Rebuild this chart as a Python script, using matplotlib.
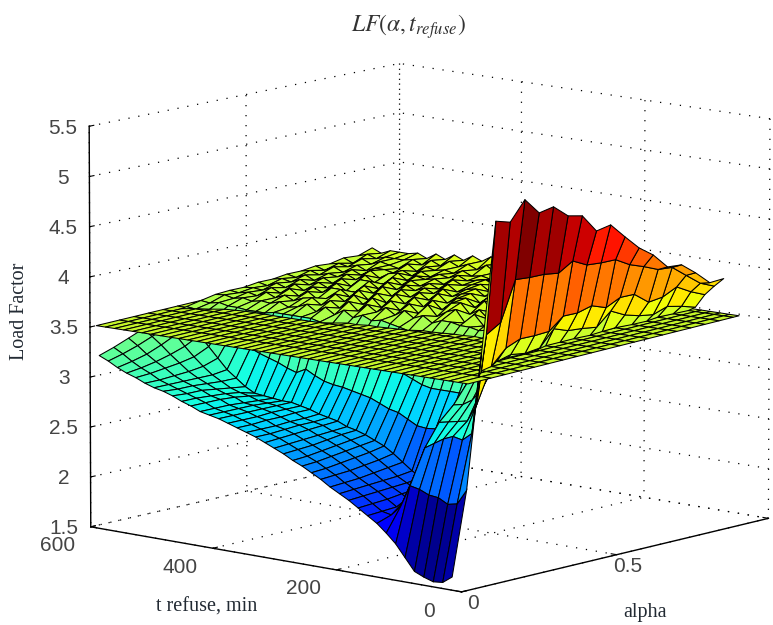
import matplotlib
matplotlib.use("Agg")
import matplotlib.pyplot as plt
from matplotlib.transforms import Affine2D
from mpl_toolkits.mplot3d.art3d import Poly3DCollection
from matplotlib import colors

t_refuse = list(range(15, 600, 15))
alpha = [0.0, 0.046, 0.093, 0.139, 0.185, 0.232, 0.278, 0.324, 0.371, 0.417,
         0.463, 0.509, 0.556, 0.602, 0.648, 0.695, 0.741, 0.787, 0.834, 0.88]
plane_alpha = [0.02, 0.093, 0.139, 0.185, 0.232, 0.278, 0.324, 0.371, 0.417, 0.463,
               0.509, 0.556, 0.602, 0.648, 0.695, 0.741, 0.787, 0.834, 0.88, 0.9]
plane_t = [0] + t_refuse + [600]
plane_front = 3.53
plane_right = 3.60
plane_left = 3.50
load_factor = [
[1.63,2.45,3.75,5.03,4.99,5.18,5.02,5.05,4.93,4.90,4.72,4.75,4.60,4.46,4.36,4.21,4.20,4.09,3.96,3.97],
[1.56,2.30,2.96,3.90,3.99,4.38,4.37,4.37,4.35,4.44,4.37,4.36,4.36,4.28,4.23,4.17,4.16,4.05,3.94,3.88],
[1.55,2.28,2.88,3.20,3.54,3.69,3.75,3.75,3.76,3.88,3.88,3.92,3.87,3.94,3.94,3.83,3.85,3.92,3.84,3.78],
[1.58,2.33,2.90,3.02,3.30,3.54,3.58,3.56,3.58,3.74,3.69,3.68,3.66,3.79,3.72,3.68,3.66,3.71,3.68,3.64],
[1.62,2.34,2.86,3.00,3.18,3.42,3.46,3.47,3.50,3.53,3.54,3.55,3.53,3.55,3.58,3.55,3.55,3.59,3.58,3.58],
[1.74,2.38,2.80,2.98,3.12,3.38,3.42,3.45,3.47,3.48,3.49,3.50,3.48,3.49,3.50,3.48,3.50,3.49,3.51,3.50],
[1.86,2.40,2.74,2.96,3.10,3.30,3.40,3.44,3.47,3.49,3.48,3.49,3.47,3.48,3.49,3.50,3.48,3.50,3.52,3.53],
[1.95,2.18,2.48,2.75,2.95,3.12,3.35,3.45,3.50,3.52,3.49,3.50,3.52,3.54,3.53,3.56,3.58,3.57,3.60,3.62],
[2.03,2.08,2.20,2.40,2.62,2.80,3.02,3.30,3.45,3.56,3.60,3.58,3.62,3.64,3.60,3.63,3.66,3.62,3.66,3.70],
[2.09,2.10,2.11,2.13,2.14,2.16,2.70,3.05,3.42,3.58,3.64,3.60,3.66,3.62,3.68,3.64,3.62,3.70,3.64,3.74],
[2.15,2.16,2.17,2.19,2.20,2.22,2.72,3.06,3.44,3.62,3.66,3.70,3.62,3.68,3.64,3.70,3.66,3.62,3.72,3.70],
[2.21,2.22,2.23,2.24,2.25,2.27,2.72,3.06,3.44,3.60,3.68,3.62,3.70,3.64,3.70,3.64,3.72,3.66,3.68,3.76],
[2.26,2.27,2.28,2.29,2.30,2.32,2.71,3.06,3.46,3.62,3.60,3.70,3.64,3.72,3.64,3.72,3.66,3.70,3.78,3.72],
[2.31,2.32,2.33,2.35,2.37,2.39,2.72,3.06,3.46,3.62,3.70,3.62,3.72,3.66,3.72,3.66,3.72,3.68,3.70,3.80],
[2.37,2.38,2.39,2.41,2.43,2.46,2.77,3.08,3.48,3.64,3.60,3.70,3.64,3.74,3.68,3.70,3.74,3.66,3.80,3.74],
[2.42,2.43,2.45,2.47,2.49,2.52,2.82,3.12,3.50,3.64,3.72,3.64,3.74,3.68,3.72,3.74,3.68,3.72,3.72,3.82],
[2.47,2.48,2.50,2.52,2.54,2.56,2.84,3.16,3.52,3.60,3.68,3.74,3.66,3.74,3.68,3.72,3.70,3.74,3.74,3.78],
[2.51,2.52,2.54,2.56,2.58,2.60,2.88,3.22,3.54,3.66,3.62,3.72,3.74,3.66,3.72,3.68,3.74,3.68,3.82,3.80],
[2.56,2.57,2.58,2.60,2.62,2.63,2.92,3.26,3.56,3.62,3.72,3.64,3.72,3.74,3.68,3.74,3.70,3.74,3.74,3.76],
[2.60,2.61,2.62,2.63,2.64,2.65,2.94,3.30,3.58,3.68,3.62,3.72,3.66,3.72,3.74,3.68,3.74,3.70,3.80,3.78],
[2.64,2.65,2.66,2.67,2.68,2.69,2.96,3.34,3.60,3.62,3.70,3.64,3.74,3.68,3.72,3.74,3.70,3.72,3.72,3.84],
[2.68,2.68,2.69,2.70,2.70,2.71,2.98,3.38,3.58,3.68,3.62,3.72,3.66,3.74,3.68,3.72,3.74,3.68,3.82,3.76],
[2.71,2.71,2.71,2.72,2.72,2.73,2.99,3.42,3.62,3.62,3.70,3.64,3.72,3.68,3.74,3.70,3.72,3.70,3.76,3.82],
[2.74,2.74,2.75,2.75,2.76,2.76,3.01,3.46,3.58,3.68,3.62,3.72,3.66,3.72,3.68,3.74,3.70,3.72,3.72,3.80],
[2.77,2.77,2.77,2.78,2.78,2.78,3.05,3.50,3.64,3.60,3.70,3.62,3.72,3.68,3.72,3.68,3.74,3.70,3.78,3.76],
[2.80,2.80,2.80,2.80,2.80,2.80,3.10,3.54,3.58,3.68,3.62,3.70,3.64,3.72,3.68,3.72,3.70,3.74,3.72,3.82],
[2.82,2.82,2.82,2.82,2.81,2.80,3.05,3.56,3.64,3.60,3.70,3.62,3.72,3.66,3.72,3.70,3.72,3.70,3.76,3.76],
[2.84,2.84,2.84,2.83,2.82,2.81,3.08,3.56,3.58,3.66,3.62,3.70,3.64,3.72,3.66,3.72,3.68,3.72,3.72,3.80],
[2.88,2.88,2.88,2.87,2.85,2.82,3.12,3.56,3.64,3.60,3.68,3.62,3.70,3.64,3.72,3.66,3.72,3.70,3.76,3.74],
[2.91,2.91,2.90,2.89,2.87,2.83,3.15,3.56,3.60,3.66,3.62,3.68,3.62,3.70,3.64,3.72,3.66,3.72,3.70,3.78],
[2.95,2.94,2.94,2.92,2.90,2.88,3.18,3.56,3.58,3.64,3.60,3.68,3.62,3.70,3.64,3.70,3.70,3.66,3.74,3.72],
[2.98,2.97,2.97,2.96,2.95,2.95,3.22,3.54,3.62,3.60,3.66,3.62,3.68,3.62,3.70,3.64,3.66,3.72,3.68,3.76],
[3.00,3.00,3.00,3.00,3.00,3.02,3.28,3.54,3.59,3.64,3.60,3.66,3.62,3.68,3.64,3.70,3.68,3.66,3.72,3.70],
[3.03,3.03,3.04,3.05,3.07,3.12,3.34,3.54,3.60,3.60,3.66,3.61,3.66,3.62,3.68,3.64,3.68,3.68,3.70,3.74],
[3.07,3.08,3.10,3.12,3.15,3.22,3.40,3.55,3.58,3.64,3.60,3.66,3.62,3.66,3.64,3.68,3.64,3.70,3.70,3.72],
[3.10,3.12,3.15,3.19,3.24,3.32,3.46,3.55,3.60,3.59,3.64,3.61,3.66,3.62,3.66,3.64,3.68,3.66,3.70,3.72],
[3.14,3.17,3.21,3.27,3.34,3.42,3.50,3.57,3.58,3.61,3.60,3.64,3.62,3.66,3.63,3.68,3.65,3.70,3.67,3.72],
[3.19,3.23,3.28,3.34,3.40,3.47,3.52,3.55,3.60,3.59,3.61,3.60,3.64,3.62,3.66,3.63,3.67,3.64,3.70,3.68],
[3.23,3.28,3.34,3.40,3.46,3.50,3.53,3.56,3.59,3.60,3.60,3.62,3.62,3.64,3.64,3.66,3.65,3.68,3.67,3.72],
]
alpha_ticks = [0, 0.5, 1]
alpha_labels = ["0", "0.5", ""]
t_ticks = [0, 200, 400, 600]
lf_ticks = [1.5, 2, 2.5, 3, 3.5, 4, 4.5, 5, 5.5]
lf_labels = ["1.5", "2", "2.5", "3", "3.5", "4", "4.5", "5", "5.5"]

W, H = 773, 625
SIDE = 770
CX, CY = 430, 302
fig = plt.figure(figsize=(W / 100, H / 100), dpi=100)
L = CX - 0.5135 * SIDE
B = CY - 0.5135 * SIDE
ax = fig.add_axes([L / W, B / H, SIDE / W, SIDE / H], projection="3d", computed_zorder=False)
ax.set_proj_type("persp", focal_length=4)
ax.view_init(elev=10.9, azim=-139.4)
ax.set_box_aspect((476, 490, 409), zoom=1)
ax.set_xlim(0, 1, view_margin=0)
ax.set_ylim(0, 600, view_margin=0)
ax.set_zlim(1.5, 5.5, view_margin=0)
ax.patch.set_visible(False)

norm = colors.Normalize(1.5, 5.15)
jet = matplotlib.colormaps["jet"]


def plane_height(a, t):
    a0 = plane_alpha[0]
    return (plane_front + (plane_right - plane_front) * (a - a0) / (plane_alpha[-1] - a0)
            + (plane_left - plane_front) * t / plane_t[-1])


def clip(poly, keep_above):
    out = []
    n = len(poly)
    for k in range(n):
        p, q = poly[k], poly[(k + 1) % n]
        dp = p[2] - plane_height(p[0], p[1])
        dq = q[2] - plane_height(q[0], q[1])
        pin = dp >= 0 if keep_above else dp <= 0
        qin = dq >= 0 if keep_above else dq <= 0
        if pin:
            out.append(p)
        if pin != qin:
            f = dp / (dp - dq)
            out.append(tuple(p[m] + f * (q[m] - p[m]) for m in range(3)))
    return out


below, below_c, above, above_c = [], [], [], []
for j in range(len(t_refuse) - 1):
    for i in range(len(alpha) - 1):
        quad = [(alpha[i], t_refuse[j], load_factor[j][i]),
                (alpha[i + 1], t_refuse[j], load_factor[j][i + 1]),
                (alpha[i + 1], t_refuse[j + 1], load_factor[j + 1][i + 1]),
                (alpha[i], t_refuse[j + 1], load_factor[j + 1][i])]
        col = jet(norm(load_factor[j][i]))
        lo = clip(quad, False)
        hi = clip(quad, True)
        if len(lo) >= 3:
            below.append(lo)
            below_c.append(col)
        if len(hi) >= 3:
            above.append(hi)
            above_c.append(col)

plane = []
for j in range(len(plane_t) - 1):
    for i in range(len(plane_alpha) - 1):
        corners = [(plane_alpha[i], plane_t[j]), (plane_alpha[i + 1], plane_t[j]),
                   (plane_alpha[i + 1], plane_t[j + 1]), (plane_alpha[i], plane_t[j + 1])]
        plane.append([(a, t, plane_height(a, t)) for a, t in corners])

LW = 0.75
c1 = Poly3DCollection(below, facecolors=below_c, edgecolors="k", linewidths=LW, zsort="average", zorder=3)
c2 = Poly3DCollection(plane, facecolors="#C4F52A", edgecolors="k", linewidths=LW, zsort="average", zorder=4)
c3 = Poly3DCollection(above, facecolors=above_c, edgecolors="k", linewidths=LW, zsort="average", zorder=5)
for c in (c1, c2, c3):
    ax.add_collection3d(c, autolim=False)

ax.set_xticks(alpha_ticks)
ax.set_xticklabels(alpha_labels)
ax.set_yticks(t_ticks)
ax.set_yticklabels([str(v) for v in t_ticks])
ax.set_zticks(lf_ticks)
ax.set_zticklabels(lf_labels)

for axis in (ax.xaxis, ax.yaxis, ax.zaxis):
    axis.pane.set_visible(False)
    axis.line.set_color("k")
    axis.line.set_linewidth(1.0)
    axis._axinfo["grid"].update(color="k", linewidth=0.9, linestyle=(0, (1, 7)))
    axis._axinfo["tick"].update(inward_factor=0.0, outward_factor=0.18)
ax.tick_params(axis="both", labelsize=15, labelcolor="#444444", colors="k", pad=2)


def shift(labels, dx, dy):
    # Axis3D re-assigns transData to its tick labels on every draw; keep the nudged one.
    for lab in labels:
        lab.set_fontfamily("Liberation Sans")
        lab.set_transform(ax.transData + Affine2D().translate(dx, dy))
        lab.set_transform = lambda *_: None


shift(ax.get_xticklabels(), -2, 14)
shift(ax.get_yticklabels(), -22, 7)
shift(ax.get_zticklabels(), -3, 8)

fig.text(408 / W, 1 - 27 / H, r"$LF(\alpha,t_{refuse})$", ha="center", va="center",
         fontsize=17, color="#333333", math_fontfamily="stix")
fig.text(20 / W, 1 - 311 / H, "Load Factor", rotation=90, ha="center", va="center",
         fontsize=14.5, family="Liberation Serif", color="#222a33")
fig.text(207 / W, 1 - 607 / H, "t refuse, min", ha="center", va="center",
         fontsize=14.5, family="Liberation Serif", color="#222a33")
fig.text(645 / W, 1 - 612 / H, "alpha", ha="center", va="center",
         fontsize=14.5, family="Liberation Serif", color="#222a33")

fig.savefig("out.png", dpi=100)
